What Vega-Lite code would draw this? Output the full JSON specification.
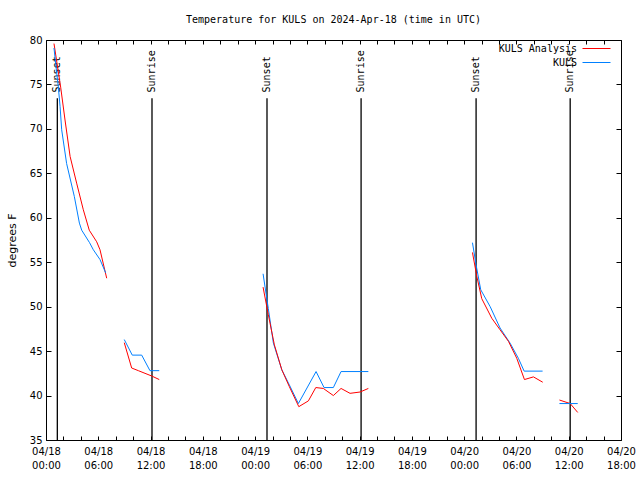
{
  "$schema": "https://vega.github.io/schema/vega-lite/v6.json",
  "autosize": {"type": "none"},
  "padding": {"left": 46, "top": 40, "right": 19, "bottom": 40},
  "width": 575,
  "height": 400,
  "title": {"text": "Temperature for KULS on 2024-Apr-18 (time in UTC)", "font": "DejaVu Sans Mono", "fontSize": 10, "fontWeight": "normal", "color": "black", "anchor": "middle", "offset": 10},
  "datasets": {
    "obs": [
      {"t": "2024-04-18T00:55:00Z", "v": 79.6, "s": "KULS Analysis", "g": 1},
      {"t": "2024-04-18T01:41:00Z", "v": 74.7, "s": "KULS Analysis", "g": 1},
      {"t": "2024-04-18T02:11:00Z", "v": 71.0, "s": "KULS Analysis", "g": 1},
      {"t": "2024-04-18T02:46:00Z", "v": 66.9, "s": "KULS Analysis", "g": 1},
      {"t": "2024-04-18T03:31:00Z", "v": 63.9, "s": "KULS Analysis", "g": 1},
      {"t": "2024-04-18T04:17:00Z", "v": 60.9, "s": "KULS Analysis", "g": 1},
      {"t": "2024-04-18T04:58:00Z", "v": 58.6, "s": "KULS Analysis", "g": 1},
      {"t": "2024-04-18T05:49:00Z", "v": 57.3, "s": "KULS Analysis", "g": 1},
      {"t": "2024-04-18T06:12:00Z", "v": 56.4, "s": "KULS Analysis", "g": 1},
      {"t": "2024-04-18T06:58:00Z", "v": 53.2, "s": "KULS Analysis", "g": 1},
      {"t": "2024-04-18T00:55:00Z", "v": 79.1, "s": "KULS", "g": 1},
      {"t": "2024-04-18T01:09:00Z", "v": 77.0, "s": "KULS", "g": 1},
      {"t": "2024-04-18T01:25:00Z", "v": 74.7, "s": "KULS", "g": 1},
      {"t": "2024-04-18T01:37:00Z", "v": 72.5, "s": "KULS", "g": 1},
      {"t": "2024-04-18T01:48:00Z", "v": 69.9, "s": "KULS", "g": 1},
      {"t": "2024-04-18T02:22:00Z", "v": 66.1, "s": "KULS", "g": 1},
      {"t": "2024-04-18T03:15:00Z", "v": 62.4, "s": "KULS", "g": 1},
      {"t": "2024-04-18T03:50:00Z", "v": 59.4, "s": "KULS", "g": 1},
      {"t": "2024-04-18T04:06:00Z", "v": 58.6, "s": "KULS", "g": 1},
      {"t": "2024-04-18T05:00:00Z", "v": 57.2, "s": "KULS", "g": 1},
      {"t": "2024-04-18T05:26:00Z", "v": 56.4, "s": "KULS", "g": 1},
      {"t": "2024-04-18T06:12:00Z", "v": 55.3, "s": "KULS", "g": 1},
      {"t": "2024-04-18T06:51:00Z", "v": 53.8, "s": "KULS", "g": 1},
      {"t": "2024-04-18T08:59:00Z", "v": 45.95, "s": "KULS Analysis", "g": 2},
      {"t": "2024-04-18T09:50:00Z", "v": 43.1, "s": "KULS Analysis", "g": 2},
      {"t": "2024-04-18T10:36:00Z", "v": 42.8, "s": "KULS Analysis", "g": 2},
      {"t": "2024-04-18T11:22:00Z", "v": 42.5, "s": "KULS Analysis", "g": 2},
      {"t": "2024-04-18T12:08:00Z", "v": 42.2, "s": "KULS Analysis", "g": 2},
      {"t": "2024-04-18T13:00:00Z", "v": 41.8, "s": "KULS Analysis", "g": 2},
      {"t": "2024-04-18T08:59:00Z", "v": 46.3, "s": "KULS", "g": 2},
      {"t": "2024-04-18T09:54:00Z", "v": 44.55, "s": "KULS", "g": 2},
      {"t": "2024-04-18T10:59:00Z", "v": 44.55, "s": "KULS", "g": 2},
      {"t": "2024-04-18T11:56:00Z", "v": 42.8, "s": "KULS", "g": 2},
      {"t": "2024-04-18T13:00:00Z", "v": 42.8, "s": "KULS", "g": 2},
      {"t": "2024-04-19T00:55:00Z", "v": 53.7, "s": "KULS", "g": 3},
      {"t": "2024-04-19T01:31:00Z", "v": 49.8, "s": "KULS", "g": 3},
      {"t": "2024-04-19T02:06:00Z", "v": 45.9, "s": "KULS", "g": 3},
      {"t": "2024-04-19T03:04:00Z", "v": 42.9, "s": "KULS", "g": 3},
      {"t": "2024-04-19T03:56:00Z", "v": 41.2, "s": "KULS", "g": 3},
      {"t": "2024-04-19T04:58:00Z", "v": 39.1, "s": "KULS", "g": 3},
      {"t": "2024-04-19T07:00:00Z", "v": 42.7, "s": "KULS", "g": 3},
      {"t": "2024-04-19T07:55:00Z", "v": 40.9, "s": "KULS", "g": 3},
      {"t": "2024-04-19T08:59:00Z", "v": 40.9, "s": "KULS", "g": 3},
      {"t": "2024-04-19T09:52:00Z", "v": 42.7, "s": "KULS", "g": 3},
      {"t": "2024-04-19T13:00:00Z", "v": 42.7, "s": "KULS", "g": 3},
      {"t": "2024-04-19T00:55:00Z", "v": 52.2, "s": "KULS Analysis", "g": 3},
      {"t": "2024-04-19T01:31:00Z", "v": 49.1, "s": "KULS Analysis", "g": 3},
      {"t": "2024-04-19T02:13:00Z", "v": 45.7, "s": "KULS Analysis", "g": 3},
      {"t": "2024-04-19T03:04:00Z", "v": 42.9, "s": "KULS Analysis", "g": 3},
      {"t": "2024-04-19T03:56:00Z", "v": 41.0, "s": "KULS Analysis", "g": 3},
      {"t": "2024-04-19T05:01:00Z", "v": 38.75, "s": "KULS Analysis", "g": 3},
      {"t": "2024-04-19T06:07:00Z", "v": 39.4, "s": "KULS Analysis", "g": 3},
      {"t": "2024-04-19T06:58:00Z", "v": 40.9, "s": "KULS Analysis", "g": 3},
      {"t": "2024-04-19T07:50:00Z", "v": 40.8, "s": "KULS Analysis", "g": 3},
      {"t": "2024-04-19T08:59:00Z", "v": 40.0, "s": "KULS Analysis", "g": 3},
      {"t": "2024-04-19T09:52:00Z", "v": 40.8, "s": "KULS Analysis", "g": 3},
      {"t": "2024-04-19T10:54:00Z", "v": 40.25, "s": "KULS Analysis", "g": 3},
      {"t": "2024-04-19T12:03:00Z", "v": 40.4, "s": "KULS Analysis", "g": 3},
      {"t": "2024-04-19T13:00:00Z", "v": 40.8, "s": "KULS Analysis", "g": 3},
      {"t": "2024-04-20T00:57:00Z", "v": 57.2, "s": "KULS", "g": 4},
      {"t": "2024-04-20T01:22:00Z", "v": 54.7, "s": "KULS", "g": 4},
      {"t": "2024-04-20T01:54:00Z", "v": 51.9, "s": "KULS", "g": 4},
      {"t": "2024-04-20T02:59:00Z", "v": 50.0, "s": "KULS", "g": 4},
      {"t": "2024-04-20T04:07:00Z", "v": 47.6, "s": "KULS", "g": 4},
      {"t": "2024-04-20T05:16:00Z", "v": 45.9, "s": "KULS", "g": 4},
      {"t": "2024-04-20T06:13:00Z", "v": 44.2, "s": "KULS", "g": 4},
      {"t": "2024-04-20T06:53:00Z", "v": 42.75, "s": "KULS", "g": 4},
      {"t": "2024-04-20T09:00:00Z", "v": 42.75, "s": "KULS", "g": 4},
      {"t": "2024-04-20T00:57:00Z", "v": 56.1, "s": "KULS Analysis", "g": 4},
      {"t": "2024-04-20T01:27:00Z", "v": 53.4, "s": "KULS Analysis", "g": 4},
      {"t": "2024-04-20T02:01:00Z", "v": 50.9, "s": "KULS Analysis", "g": 4},
      {"t": "2024-04-20T03:10:00Z", "v": 48.7, "s": "KULS Analysis", "g": 4},
      {"t": "2024-04-20T04:07:00Z", "v": 47.4, "s": "KULS Analysis", "g": 4},
      {"t": "2024-04-20T05:05:00Z", "v": 46.1, "s": "KULS Analysis", "g": 4},
      {"t": "2024-04-20T06:02:00Z", "v": 44.2, "s": "KULS Analysis", "g": 4},
      {"t": "2024-04-20T06:55:00Z", "v": 41.8, "s": "KULS Analysis", "g": 4},
      {"t": "2024-04-20T07:57:00Z", "v": 42.1, "s": "KULS Analysis", "g": 4},
      {"t": "2024-04-20T09:01:00Z", "v": 41.5, "s": "KULS Analysis", "g": 4},
      {"t": "2024-04-20T10:56:00Z", "v": 39.5, "s": "KULS Analysis", "g": 5},
      {"t": "2024-04-20T12:10:00Z", "v": 39.1, "s": "KULS Analysis", "g": 5},
      {"t": "2024-04-20T13:02:00Z", "v": 38.1, "s": "KULS Analysis", "g": 5},
      {"t": "2024-04-20T10:56:00Z", "v": 39.1, "s": "KULS", "g": 5},
      {"t": "2024-04-20T13:02:00Z", "v": 39.1, "s": "KULS", "g": 5}
    ],
    "sun": [
      {"t": "2024-04-18T01:18:00Z", "label": "Sunset"},
      {"t": "2024-04-18T12:10:00Z", "label": "Sunrise"},
      {"t": "2024-04-19T01:22:00Z", "label": "Sunset"},
      {"t": "2024-04-19T12:10:00Z", "label": "Sunrise"},
      {"t": "2024-04-20T01:22:00Z", "label": "Sunset"},
      {"t": "2024-04-20T12:10:00Z", "label": "Sunrise"}
    ]
  },
  "layer": [
    {
      "data": {"name": "sun"},
      "mark": {"type": "rule", "color": "black", "strokeWidth": 1.3},
      "encoding": {
        "x": {"field": "t", "type": "temporal", "axis": null},
        "y": {"datum": 73.44, "type": "quantitative", "axis": null},
        "y2": {"datum": 35}
      }
    },
    {
      "data": {"name": "sun"},
      "mark": {"type": "text", "angle": 270, "align": "left", "baseline": "middle", "font": "DejaVu Sans Mono", "fontSize": 10, "color": "black"},
      "encoding": {
        "x": {"field": "t", "type": "temporal", "axis": null},
        "y": {"datum": 74.1, "type": "quantitative", "axis": null},
        "text": {"field": "label", "type": "nominal"}
      }
    },
    {
      "data": {"name": "obs"},
      "mark": {"type": "line", "strokeWidth": 1, "interpolate": "linear"},
      "encoding": {
        "x": {"field": "t", "type": "temporal",
              "scale": {"type": "utc", "domain": [1713398400000, 1713636000000], "nice": false},
              "axis": {"orient": "bottom", "values": [1713398400000, 1713405600000, 1713412800000, 1713420000000, 1713427200000, 1713434400000, 1713441600000, 1713448800000, 1713456000000, 1713463200000, 1713470400000, 1713477600000, 1713484800000, 1713492000000, 1713499200000, 1713506400000, 1713513600000, 1713520800000, 1713528000000, 1713535200000, 1713542400000, 1713549600000, 1713556800000, 1713564000000, 1713571200000, 1713578400000, 1713585600000, 1713592800000, 1713600000000, 1713607200000, 1713614400000, 1713621600000, 1713628800000, 1713636000000],
                       "tickSize": -4, "labelPadding": 10, "domain": false, "grid": false, "title": null, "labelOverlap": false, "labelFlush": false,
                       "labelExpr": "utchours(datum.value) % 6 == 0 ? [utcFormat(datum.value, '%m/%d'), utcFormat(datum.value, '%H:%M')] : ''", "labelLineHeight": 14}},
        "y": {"field": "v", "type": "quantitative", "scale": {"domain": [35, 80], "nice": false, "zero": false},
              "axis": {"orient": "left", "values": [35, 40, 45, 50, 55, 60, 65, 70, 75, 80], "tickSize": -5, "labelPadding": 9, "domain": false, "grid": false, "title": "degrees F", "titleFont": "DejaVu Sans", "titleFontSize": 11, "titleFontWeight": "normal", "titlePadding": 12}},
        "color": {"field": "s", "type": "nominal", "scale": {"domain": ["KULS Analysis", "KULS"], "range": ["#ff0000", "#0080ff"]},
                  "legend": {"title": null, "orient": "none", "legendX": 543, "legendY": 1, "symbolType": "M-2,0H2", "symbolSize": 196, "symbolStrokeWidth": 1, "labelAlign": "right", "labelOffset": -27, "labelFont": "DejaVu Sans Mono", "labelFontSize": 10, "labelColor": "black", "rowPadding": 1}},
        "detail": {"field": "g", "type": "nominal"}
      }
    },
    {
      "data": {"name": "obs"},
      "mark": {"type": "line", "strokeWidth": 1, "opacity": 0},
      "encoding": {
        "x": {"field": "t", "type": "temporal",
              "axis": {"orient": "top", "labels": false, "values": [1713398400000, 1713405600000, 1713412800000, 1713420000000, 1713427200000, 1713434400000, 1713441600000, 1713448800000, 1713456000000, 1713463200000, 1713470400000, 1713477600000, 1713484800000, 1713492000000, 1713499200000, 1713506400000, 1713513600000, 1713520800000, 1713528000000, 1713535200000, 1713542400000, 1713549600000, 1713556800000, 1713564000000, 1713571200000, 1713578400000, 1713585600000, 1713592800000, 1713600000000, 1713607200000, 1713614400000, 1713621600000, 1713628800000, 1713636000000],
                       "tickSize": -4, "domain": false, "grid": false, "title": null}},
        "y": {"field": "v", "type": "quantitative",
              "axis": {"orient": "right", "labels": false, "values": [35, 40, 45, 50, 55, 60, 65, 70, 75, 80], "tickSize": -5, "domain": false, "grid": false, "title": null}},
        "detail": {"field": "g", "type": "nominal"}
      }
    }
  ],
  "config": {
    "view": {"stroke": "black", "strokeWidth": 1},
    "axis": {"labelFont": "DejaVu Sans", "labelFontSize": 10, "labelColor": "black", "tickColor": "black", "tickWidth": 1},
    "background": "white"
  }
}
